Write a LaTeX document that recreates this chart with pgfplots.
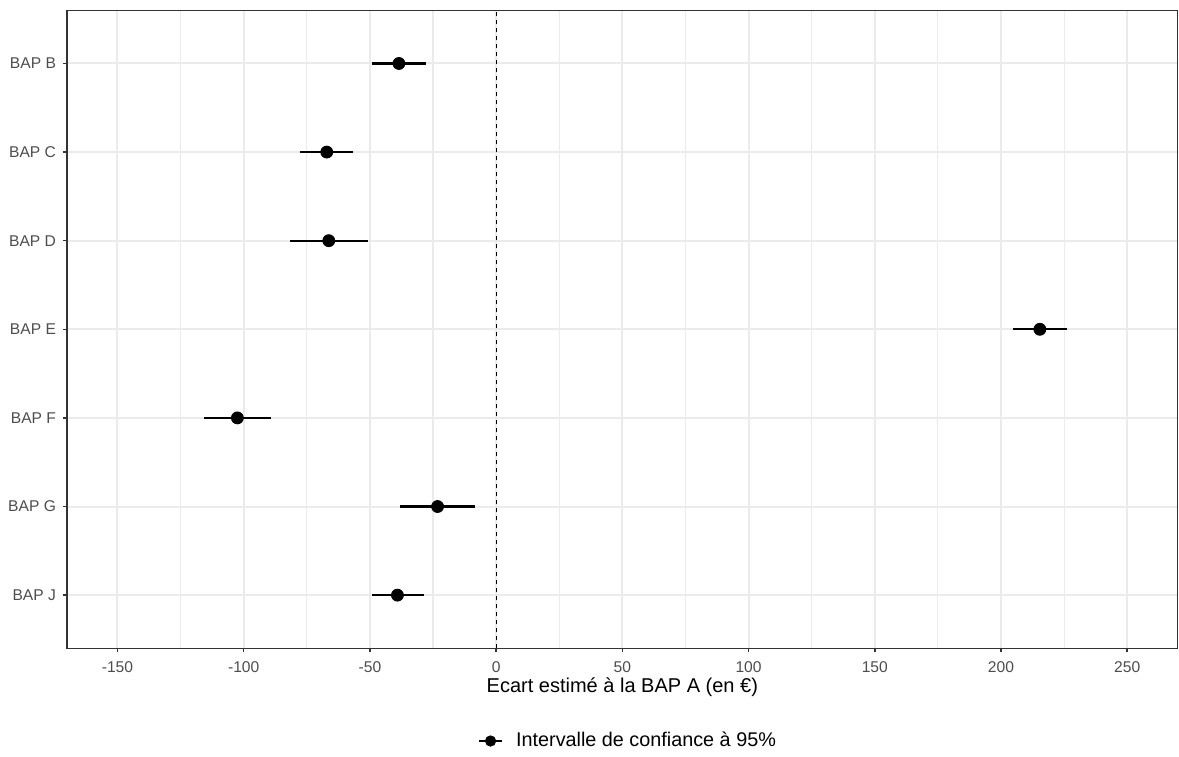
\documentclass[border=0pt]{standalone}
\usepackage{fontspec}
\setmainfont{Liberation Sans}
\usepackage{pgfplots}
\usepackage{pgfplotstable}
\pgfplotsset{compat=1.18}
\definecolor{gridc}{HTML}{EBEBEB}
\definecolor{tickc}{HTML}{4D4D4D}
\definecolor{framec}{HTML}{333333}

\pgfplotstableread{
pos est em ep
7 -38.5 10.7 10.8
6 -67.1 10.6 10.4
5 -66.3 15.4 15.6
4 215.4 10.6 10.8
3 -102.5 13.3 13.5
2 -23.2 15.0 15.0
1 -39.1 10.1 10.5
}\datatable

\begin{document}
\begin{tikzpicture}
\path[use as bounding box] (-33.5pt,-53.85pt) rectangle (556pt,324.15pt);
\begin{axis}[
  at={(0pt,0pt)}, anchor=south west,
  scale only axis, width=555.35pt, height=319pt,
  xmin=-170, xmax=270, ymin=0.4, ymax=7.6,
  xtick={-150,-100,...,250},
  xticklabels={-150,-100,-50,0,50,100,150,200,250},
  minor xtick={-125,-75,...,225},
  ytick={1,...,7},
  yticklabels={BAP J,BAP G,BAP F,BAP E,BAP D,BAP C,BAP B},
  grid=both,
  major grid style={gridc, line width=1pt},
  minor grid style={gridc, line width=0.6pt},
  axis line style={framec, line width=0.75pt},
  tick style={framec, line width=0.75pt},
  tick align=outside, major tick length=2pt, minor tick length=0pt,
  xtick pos=left, ytick pos=left,
  tick label style={font=\fontsize{7.8}{9}\selectfont, text=tickc},
  xticklabel style={yshift=-1pt},
  xlabel={Ecart estimé à la BAP A (en €)},
  xlabel style={at={(axis description cs:0.5,0)}, anchor=base, yshift=-22.2pt, font=\fontsize{10}{12}\selectfont},
  legend style={at={(axis description cs:0.5,0)}, anchor=center, yshift=-46.35pt, xshift=3.3pt, draw=none, fill=none, font=\fontsize{9.9}{12}\selectfont},
  legend image code/.code={\draw[line width=1.1pt] (0pt,0pt) -- (11.5pt,0pt); \fill (5.75pt,0pt) circle (2.6pt);},
]
\addplot[forget plot, black, line width=0.5pt, dash pattern=on 2pt off 2pt] coordinates {(0,0.4) (0,7.6)};
\addplot[only marks, mark=*, mark size=3pt, black,
  error bars/.cd, x dir=both, x explicit, error mark=none,
  error bar style={line width=1.1pt, black}]
  table[x=est, y=pos, x error plus=ep, x error minus=em] {\datatable};
\addlegendentry{\hspace*{4.5pt}Intervalle de confiance à 95\%}
\end{axis}
\end{tikzpicture}
\end{document}
